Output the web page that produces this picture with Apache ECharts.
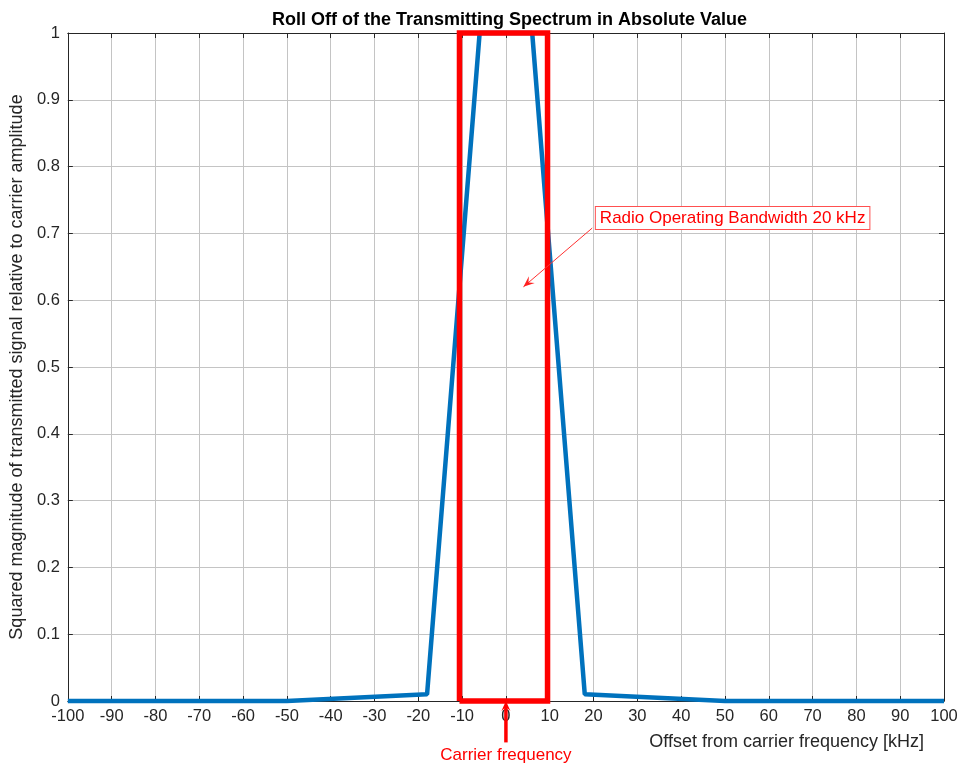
<!DOCTYPE html>
<html>
<head>
<meta charset="utf-8">
<script src="https://cdn.jsdelivr.net/npm/echarts@6/dist/echarts.min.js"></script>
<style>html,body{margin:0;padding:0;background:#fff}#c{width:961px;height:763px}</style>
</head>
<body>
<div id="c"></div>
<script>
// ---- data ----
const offsetKHz = [-100, -50, -18, -6, 6, 18, 50, 100];
const magnitude = [0, 0, 0.01, 1, 1, 0.01, 0, 0];
const bandRectX = [-10.6, -10.6, 9.5, 9.5, -10.6];
const bandRectY = [0, 1, 1, 0, 0];
const xTicks = [-100, 100, 10];
const yTicks = [0, 1, 0.1];
const titleText = 'Roll Off of the Transmitting Spectrum in Absolute Value';
const xName = 'Offset from carrier frequency [kHz]';
const yName = 'Squared magnitude of transmitted signal relative to carrier amplitude';
const bwLabel = 'Radio Operating Bandwidth 20 kHz';
const carrierLabel = 'Carrier frequency';
// annotation anchors in data coordinates
const bwArrowFrom = [19.7, 0.708];
const bwArrowTo = [4.0, 0.62];
const bwBoxAt = [20.3, 0.741];
const carrierArrowFrom = [0, -0.062];
const carrierArrowTo = [0, 0];

const font = 'Liberation Sans, Arial, Helvetica, sans-serif';
const chart = echarts.init(document.getElementById('c'), null, {renderer: 'canvas'});
const lineData = offsetKHz.map((x, i) => [x, magnitude[i]]);
const rectData = bandRectX.map((x, i) => [x, bandRectY[i]]);

const axisCommon = {
  axisLine: {show: true, onZero: false, lineStyle: {color: '#262626', width: 1}},
  axisTick: {show: true, inside: true, length: 5, lineStyle: {color: '#262626'}},
};

chart.setOption({
  animation: false,
  title: {
    text: titleText, left: 267, top: 6,
    textStyle: {fontFamily: font, fontWeight: 'bold', fontSize: 18, color: '#000'}
  },
  grid: {left: 65, right: 17, top: 33, bottom: 62, containLabel: false},
  xAxis: [{
    type: 'value', min: xTicks[0], max: xTicks[1], interval: xTicks[2],
    ...axisCommon,
    axisLabel: {fontFamily: font, fontSize: 16.5, color: '#262626', margin: 7},
    splitLine: {show: true, lineStyle: {color: '#c4c4c4', width: 1}},
    name: xName, nameLocation: 'end', nameGap: 0,
    nameTextStyle: {fontFamily: font, fontSize: 18, color: '#262626', align: 'right', verticalAlign: 'top', padding: [32, 20, 0, 0]}
  }, {
    type: 'value', position: 'top', min: xTicks[0], max: xTicks[1], interval: xTicks[2],
    ...axisCommon, axisLabel: {show: false}, splitLine: {show: false}
  }],
  yAxis: [{
    type: 'value', min: yTicks[0], max: yTicks[1], interval: yTicks[2],
    ...axisCommon,
    axisLabel: {fontFamily: font, fontSize: 16.5, color: '#262626', margin: 8,
      formatter: v => String(Math.round(v * 10) / 10)},
    splitLine: {show: true, lineStyle: {color: '#c4c4c4', width: 1}},
    name: yName, nameLocation: 'middle', nameGap: 35, nameRotate: 90,
    nameTextStyle: {fontFamily: font, fontSize: 18, color: '#262626'}
  }, {
    type: 'value', position: 'right', min: yTicks[0], max: yTicks[1], interval: yTicks[2],
    ...axisCommon, axisLabel: {show: false}, splitLine: {show: false}
  }],
  series: [{
    type: 'line', data: lineData, symbol: 'none', clip: false,
    lineStyle: {color: '#0072BD', width: 4.5}, z: 3
  }, {
    type: 'line', data: rectData, symbol: 'none', clip: false,
    lineStyle: {color: '#ff0000', width: 5.5, join: 'miter'}, z: 4
  }]
});

function px(p) { return chart.convertToPixel({xAxisIndex: 0, yAxisIndex: 0}, p); }
function arrowHead(tip, from, len, half, color) {
  const dx = tip[0] - from[0], dy = tip[1] - from[1];
  const d = Math.hypot(dx, dy), ux = dx / d, uy = dy / d;
  const bx = tip[0] - ux * len, by = tip[1] - uy * len;
  return {
    type: 'polygon', z: 20,
    shape: {points: [tip, [bx - uy * half, by + ux * half], [tip[0] - ux * len * 0.6, tip[1] - uy * len * 0.6], [bx + uy * half, by - ux * half]]},
    style: {fill: color}
  };
}
const a1 = px(bwArrowFrom), a2 = px(bwArrowTo), bx = px(bwBoxAt);
const c1 = px(carrierArrowFrom), c2 = px(carrierArrowTo);
chart.setOption({
  graphic: [
    {type: 'line', z: 20, shape: {x1: a1[0], y1: a1[1], x2: a2[0], y2: a2[1]}, style: {stroke: '#ff3030', lineWidth: 1}},
    arrowHead(a2, a1, 11, 4.5, '#ff2020'),
    {type: 'text', z: 21, left: bx[0], top: bx[1],
      style: {text: bwLabel, fill: '#ff0000', font: '17px ' + font,
        backgroundColor: '#fff', borderColor: '#ff5050', borderWidth: 1, padding: [3, 4, 2, 4]}},
    {type: 'line', z: 20, shape: {x1: c1[0], y1: c1[1], x2: c2[0], y2: c2[1] + 6}, style: {stroke: '#ff0000', lineWidth: 3.5}},
    arrowHead(c2, c1, 10, 4.5, '#ff0000'),
    {type: 'text', z: 21, x: c1[0], y: c1[1] + 4,
      style: {text: carrierLabel, fill: '#ff0000', font: '17px ' + font, align: 'center', verticalAlign: 'top'}}
  ]
});
</script>
</body>
</html>
